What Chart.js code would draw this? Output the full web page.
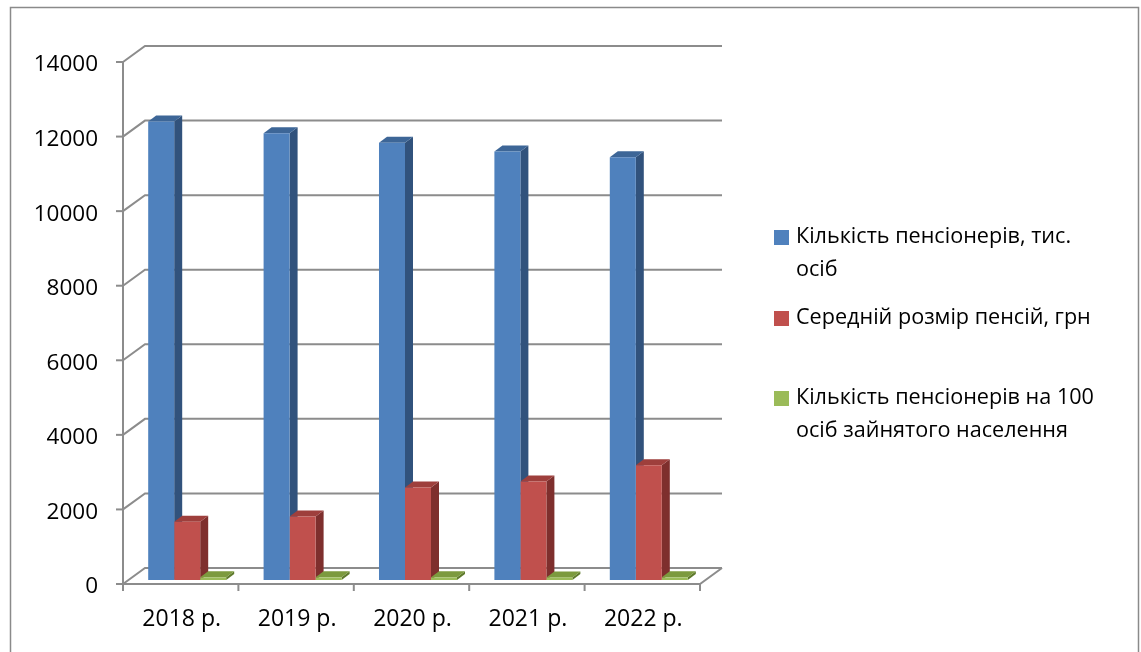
<!DOCTYPE html>
<html>
<head>
<meta charset="utf-8">
<script src="https://cdn.jsdelivr.net/npm/chart.js@4.4.0/dist/chart.umd.min.js"></script>
<style>
  html, body { margin: 0; padding: 0; background: #fff; }
  #wrap { width: 1141px; height: 652px; position: relative; }
</style>
</head>
<body>
<div id="wrap"><canvas id="pensionChart"></canvas></div>
<script>
"use strict";

var years = ['2018 р.', '2019 р.', '2020 р.', '2021 р.', '2022 р.'];
var pensionersCount = [12300, 11980, 11730, 11490, 11340];
var avgPension = [1560, 1700, 2480, 2640, 3080];
var perHundredEmployed = [72, 71, 72, 70, 71];
var yTicks = [0, 2000, 4000, 6000, 8000, 10000, 12000, 14000];
var seriesNames = [
  ['Кількість пенсіонерів, тис.', 'осіб'],
  ['Середній розмір пенсій, грн'],
  ['Кількість пенсіонерів на 100', 'осіб зайнятого населення']
];

// front / top / side shades for each series
var faceColors = [
  { front: '#4f81bd', top: '#3d6697', side: '#31527c' },
  { front: '#c0504d', top: '#9e3f3c', side: '#7e2f2d' },
  { front: '#9bbb59', top: '#7c9a3e', side: '#5f7a2c' }
];

var FONT = '"Open Sans", "Noto Sans", sans-serif';
var WALL_DX = 22, WALL_DY = -16;   // back wall offset from the front axis plane
var BAR_DX = 6.5, BAR_DY = -4;     // plane the bar fronts sit on
var DEPTH_DX = 8, DEPTH_DY = -6;   // bar depth

function line(ctx, pts) {
  ctx.beginPath();
  ctx.moveTo(pts[0][0], pts[0][1]);
  for (var i = 1; i < pts.length; i++) ctx.lineTo(pts[i][0], pts[i][1]);
  ctx.stroke();
}

function poly(ctx, pts, color) {
  ctx.beginPath();
  ctx.moveTo(pts[0][0], pts[0][1]);
  for (var i = 1; i < pts.length; i++) ctx.lineTo(pts[i][0], pts[i][1]);
  ctx.closePath();
  ctx.fillStyle = color;
  ctx.fill();
}

var box3d = {
  id: 'box3d',
  beforeDraw: function (chart) {
    var ctx = chart.ctx;
    ctx.save();
    ctx.fillStyle = '#fff';
    ctx.fillRect(0, 0, chart.width, chart.height);
    ctx.strokeStyle = '#8a8a8a';
    ctx.lineWidth = 1.5;
    ctx.strokeRect(10.5, 7.5, 1128, 700);
    ctx.restore();
  },
  beforeDatasetsDraw: function (chart) {
    var ctx = chart.ctx;
    var a = chart.chartArea;
    var y = chart.scales.y;
    ctx.save();
    ctx.strokeStyle = '#8c8c8c';
    ctx.lineWidth = 2;
    ctx.lineCap = 'butt';

    // side wall diagonals + back wall gridlines
    yTicks.forEach(function (v) {
      var py = y.getPixelForValue(v);
      line(ctx, [[a.left, py], [a.left + WALL_DX, py + WALL_DY], [a.right + WALL_DX, py + WALL_DY]]);
      line(ctx, [[a.left - 7, py], [a.left, py]]);
    });
    // front axis and floor edge
    var base = y.getPixelForValue(0);
    line(ctx, [[a.left, y.getPixelForValue(yTicks[yTicks.length - 1])], [a.left, base], [a.right, base], [a.right + WALL_DX, base + WALL_DY]]);
    // category ticks
    var step = (a.right - a.left) / years.length;
    for (var i = 0; i <= years.length; i++) {
      var tx = a.left + i * step;
      line(ctx, [[tx, base], [tx, base + 7]]);
    }

    // top and side faces, drawn bar by bar so neighbours overlap properly
    var metas = [0, 1, 2].map(function (d) { return chart.getDatasetMeta(d); });
    for (var c = 0; c < years.length; c++) {
      for (var d = 0; d < metas.length; d++) {
        var bar = metas[d].data[c];
        var p = bar.getProps(['x', 'y', 'base', 'width'], true);
        var L = p.x - p.width / 2 + BAR_DX;
        var R = p.x + p.width / 2 + BAR_DX;
        var T = Math.min(p.y, p.base) + BAR_DY;
        var B = Math.max(p.y, p.base) + BAR_DY;
        poly(ctx, [[R, T], [R + DEPTH_DX, T + DEPTH_DY], [R + DEPTH_DX, B + DEPTH_DY], [R, B]], faceColors[d].side);
        poly(ctx, [[L, T], [R, T], [R + DEPTH_DX, T + DEPTH_DY], [L + DEPTH_DX, T + DEPTH_DY]], faceColors[d].top);
      }
    }
    ctx.restore();

    // fronts are drawn by Chart.js on the shifted plane
    ctx.save();
    ctx.translate(BAR_DX, BAR_DY);
  },
  afterDatasetsDraw: function (chart) {
    chart.ctx.restore();
  },
  afterDraw: function (chart) {
    var ctx = chart.ctx;
    var y = chart.scales.y;
    var x = chart.scales.x;
    ctx.save();
    ctx.fillStyle = '#000';
    ctx.font = '22.5px ' + FONT;

    ctx.textAlign = 'right';
    ctx.textBaseline = 'middle';
    yTicks.forEach(function (v) {
      ctx.fillText(String(v), 98, y.getPixelForValue(v) + 3);
    });

    ctx.textAlign = 'center';
    ctx.font = '23px ' + FONT;
    years.forEach(function (label, i) {
      ctx.fillText(label, x.getPixelForValue(i) + 1, 619);
    });

    // legend
    ctx.textAlign = 'left';
    ctx.font = '21.6px ' + FONT;
    var legendRows = [237, 318, 398];
    seriesNames.forEach(function (lines, i) {
      var ly = legendRows[i];
      ctx.fillStyle = faceColors[i].front;
      ctx.fillRect(774, ly - 7, 15, 15);
      ctx.fillStyle = '#000';
      lines.forEach(function (t, k) {
        ctx.fillText(t, 796, ly + k * 33);
      });
    });
    ctx.restore();
  }
};

var ctx = document.getElementById('pensionChart').getContext('2d');
var pensionChart = new Chart(ctx, {
  type: 'bar',
  data: {
    labels: years,
    datasets: [{
      label: seriesNames[0].join(' '),
      data: pensionersCount,
      backgroundColor: faceColors[0].front,
      clip: false
    }, {
      label: seriesNames[1].join(' '),
      data: avgPension,
      backgroundColor: faceColors[1].front,
      clip: false
    }, {
      label: seriesNames[2].join(' '),
      data: perHundredEmployed,
      backgroundColor: faceColors[2].front,
      clip: false
    }]
  },
  options: {
    responsive: true,
    maintainAspectRatio: false,
    animation: { duration: 0 },
    layout: {
      padding: { left: 123, top: 62, right: 441, bottom: 68 }
    },
    datasets: {
      bar: { categoryPercentage: 0.676, barPercentage: 1.0, borderWidth: 0 }
    },
    scales: {
      x: { display: false },
      y: { display: false, min: 0, max: 14000 }
    },
    plugins: {
      legend: { display: false },
      tooltip: { enabled: false }
    }
  },
  plugins: [box3d]
});
</script>
</body>
</html>
